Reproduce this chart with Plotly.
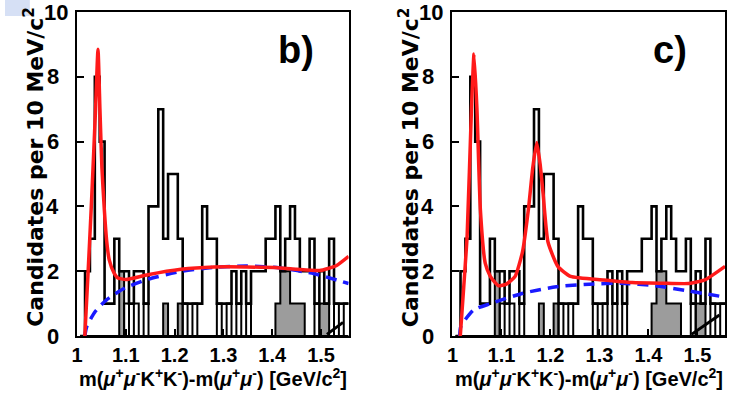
import plotly.graph_objects as go

# ---------------- data ----------------
bin_start = 1.0065
bin_width = 0.01
data_counts = [0, 2, 3, 8, 6, 1, 1, 3, 2, 2,
               1, 2, 2, 1, 4, 4, 7, 3, 5, 5,
               3, 1, 1, 1, 1, 4, 3, 3, 1, 1,
               1, 2, 1, 2, 1, 2, 2, 2, 3, 3,
               4, 2, 3, 4, 3, 2, 2, 3, 1, 2,
               1, 3, 1, 1, 1]
gray_counts = [0, 0, 0, 0, 0, 0, 0, 0, 2, 0,
               0, 0, 0, 0, 0, 0, 0, 1, 0, 0,
               1, 0, 0, 0, 0, 0, 0, 0, 0, 0,
               0, 0, 0, 0, 0, 0, 0, 0, 0, 0,
               1, 2, 2, 1, 1, 1, 0, 0, 0, 1,
               1, 0, 0, 0, 0]
open_counts = [0, 0, 0, 0, 0, 0, 0, 0, 0, 1,
               0, 1, 0, 1, 0, 0, 0, 0, 0, 0,
               0, 1, 0, 1, 0, 0, 0, 0, 1, 0,
               1, 0, 1, 0, 1, 0, 0, 0, 0, 0,
               0, 0, 0, 0, 0, 0, 0, 0, 1, 0,
               0, 0, 1, 0, 1]

b_red_x = [1.016, 1.0225, 1.029, 1.034, 1.038, 1.043, 1.047, 1.051, 1.056, 1.061,
           1.066, 1.076, 1.083, 1.10, 1.145, 1.213, 1.28, 1.348, 1.416, 1.45,
           1.497, 1.531, 1.5565]
b_red_y = [0.0, 1.9, 3.9, 5.6, 7.0, 8.85, 7.0, 5.2, 3.9, 2.9,
           2.35, 1.94, 1.8, 1.74, 1.89, 2.06, 2.13, 2.13, 2.1, 2.06,
           2.02, 2.17, 2.46]
b_blue_x = [1.016, 1.020, 1.037, 1.060, 1.098, 1.145, 1.213, 1.28, 1.348, 1.416, 1.486, 1.5565]
b_blue_y = [0.0, 0.29, 0.75, 1.11, 1.48, 1.75, 1.99, 2.12, 2.16, 2.1, 1.92, 1.62]
b_black_x = [1.512, 1.525, 1.545]
b_black_y = [0.05, 0.2, 0.42]

c_red_x = [1.016, 1.023, 1.030, 1.0388, 1.044, 1.050, 1.057, 1.067, 1.077, 1.087,
           1.094, 1.110, 1.128, 1.143, 1.155, 1.164, 1.172, 1.179, 1.185, 1.195,
           1.215, 1.241, 1.309, 1.367, 1.427, 1.482, 1.515, 1.5565]
c_red_y = [0.0, 1.5, 3.1, 7.0, 8.7, 7.0, 3.9, 2.24, 1.85, 1.65,
           1.55, 1.6, 1.84, 2.6, 3.9, 5.2, 5.97, 5.3, 4.4, 2.9,
           2.15, 1.84, 1.73, 1.65, 1.63, 1.62, 1.73, 2.15]
c_blue_x = [1.015, 1.017, 1.043, 1.078, 1.144, 1.212, 1.279, 1.346, 1.414, 1.482, 1.5565]
c_blue_y = [0.0, 0.29, 0.8, 1.0, 1.32, 1.52, 1.6, 1.63, 1.55, 1.39, 1.2]
c_black_x = [1.488, 1.50, 1.515, 1.53, 1.545]
c_black_y = [0.05, 0.18, 0.35, 0.5, 0.65]

y_ticks = [0, 2, 4, 6, 8, 10]
y_tick_text = ["0", "2", "4", "6", "8", "10"]
x_ticks = [1.0, 1.1, 1.2, 1.3, 1.4, 1.5]
x_tick_text = ["1", "1.1", "1.2", "1.3", "1.4", "1.5"]
panel_labels = ["b)", "c)"]

# ---------------- figure ----------------
W, H = 738, 393
T, B = 12, 57
PH = H - T - B
fig = go.Figure()

n = len(data_counts)
edges = [bin_start + i * bin_width for i in range(n + 1)]
step_y = data_counts + [data_counts[-1]]
gray_y = gray_counts + [gray_counts[-1]]
open_y = open_counts + [open_counts[-1]]

panels = [
    dict(xa="x", ya="y", red=(b_red_x, b_red_y), blue=(b_blue_x, b_blue_y),
         black=(b_black_x, b_black_y)),
    dict(xa="x2", ya="y2", red=(c_red_x, c_red_y), blue=(c_blue_x, c_blue_y),
         black=(c_black_x, c_black_y)),
]

for p in panels:
    fig.add_trace(go.Scatter(x=edges, y=gray_y, mode="lines", line_shape="hv",
                             fill="tozeroy", fillcolor="#9c9c9c",
                             line=dict(color="black", width=2),
                             xaxis=p["xa"], yaxis=p["ya"], showlegend=False))
    fig.add_trace(go.Scatter(x=edges, y=open_y, mode="lines", line_shape="hv",
                             line=dict(color="black", width=2),
                             xaxis=p["xa"], yaxis=p["ya"], showlegend=False))
    fig.add_trace(go.Scatter(x=edges, y=step_y, mode="lines", line_shape="hv",
                             line=dict(color="black", width=2.6),
                             xaxis=p["xa"], yaxis=p["ya"], showlegend=False))
    fig.add_trace(go.Scatter(x=p["blue"][0], y=p["blue"][1], mode="lines",
                             line=dict(color="#1a1aff", width=3.5, dash="11px,7px", shape="spline",
                                       smoothing=0.6),
                             xaxis=p["xa"], yaxis=p["ya"], showlegend=False))
    fig.add_trace(go.Scatter(x=p["red"][0], y=p["red"][1], mode="lines",
                             line=dict(color="#ff1a1a", width=3.5, shape="spline", smoothing=0.5),
                             xaxis=p["xa"], yaxis=p["ya"], showlegend=False))
    fig.add_trace(go.Scatter(x=p["black"][0], y=p["black"][1], mode="lines",
                             line=dict(color="black", width=3),
                             xaxis=p["xa"], yaxis=p["ya"], showlegend=False))

px = lambda v: v / W
py = lambda v: (H - B - v) / PH

axis_common = dict(showgrid=False, zeroline=False, showline=True, linecolor="black",
                   linewidth=2, mirror=True, ticks="inside", tickcolor="black",
                   ticklen=7, tickwidth=1.5)
xfont = dict(family="Liberation Sans", size=20, color="black", weight="bold")

x_rng = [0.999, 1.5565]
fig.update_layout(
    width=W, height=H, margin=dict(l=0, r=0, t=T, b=B),
    paper_bgcolor="white", plot_bgcolor="white",
    xaxis=dict(domain=[px(72), px(346)], range=x_rng, tickvals=x_ticks, ticktext=x_tick_text,
               anchor="y", tickfont=xfont, ticklabelstandoff=0, **axis_common),
    yaxis=dict(domain=[0, 1], range=[0, 10], tickvals=y_ticks, anchor="x",
               showticklabels=False, **axis_common),
    xaxis2=dict(domain=[px(450), px(725)], range=x_rng, tickvals=x_ticks, ticktext=x_tick_text,
                anchor="y2", tickfont=xfont, ticklabelstandoff=0, **axis_common),
    yaxis2=dict(domain=[0, 1], range=[0, 10], tickvals=y_ticks, anchor="x2",
                showticklabels=False, **axis_common),
)

# y tick labels (ROOT-like placement)
for yref, x_right in [("y", 56), ("y2", 434)]:
    for v, t in zip(y_ticks, y_tick_text):
        xr = x_right + (9 if len(t) > 1 else 0)
        fig.add_annotation(x=px(xr), y=v, xref="paper", yref=yref, text="<b>" + t + "</b>",
                           showarrow=False, xanchor="right", yanchor="middle",
                           font=dict(family="Liberation Sans", size=22, color="black"))

xtitle = "<b>m(<i>μ</i><sup>+</sup><i>μ</i><sup>-</sup>K<sup>+</sup>K<sup>-</sup>)-m(<i>μ</i><sup>+</sup><i>μ</i><sup>-</sup>) [GeV/c<sup>2</sup>]</b>"
ytitle = "<b>Candidates per 10 MeV/c<sup>2</sup></b>"
for i, (xc, yx, lx) in enumerate([(209, 29, 293), (588, 407, 670)]):
    fig.add_annotation(x=px(xc), y=py(378), xref="paper", yref="paper",
                       text=xtitle, showarrow=False,
                       font=dict(family="Liberation Sans", size=20, color="black"),
                       xanchor="center", yanchor="middle")
    fig.add_annotation(x=px(yx), y=py(167), xref="paper", yref="paper",
                       text=ytitle, showarrow=False,
                       font=dict(family="DejaVu Sans", size=22, color="black"),
                       textangle=-90, xanchor="center", yanchor="middle")
    fig.add_annotation(x=px(lx), y=py(50), xref="paper", yref="paper",
                       text="<b>" + panel_labels[i] + "</b>", showarrow=False,
                       font=dict(family="Liberation Sans Narrow, Liberation Sans", size=38, color="black"),
                       xanchor="center", yanchor="middle")

fig.add_shape(type="rect", xref="paper", yref="paper", x0=0, x1=px(25),
              y0=py(16), y1=py(0), fillcolor="#d6e0f5", line=dict(width=0), layer="below")

fig.write_html("out.html")
